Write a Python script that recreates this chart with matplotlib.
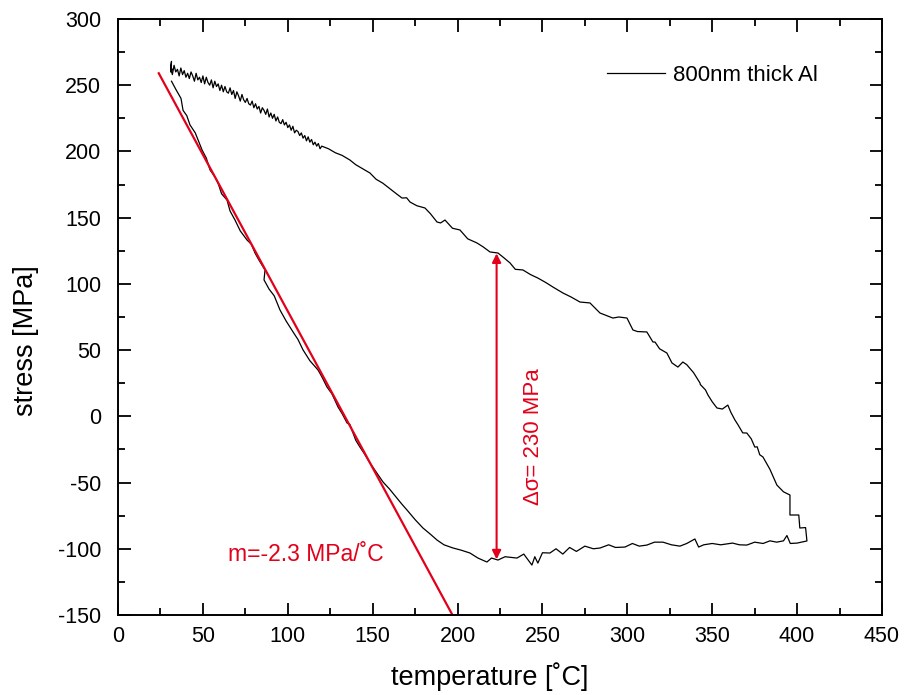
import numpy as np
import matplotlib.pyplot as plt
from matplotlib.ticker import MultipleLocator

plt.rcParams['font.family'] = ['Liberation Sans', 'DejaVu Sans']
plt.rcParams['axes.unicode_minus'] = False

# --- data read off the loop (temperature in C, stress in MPa) ---
# lower (steep) branch, low T -> high T
low_t = [31.5, 34.0, 37.1, 38.3, 40.5, 42.4, 45.5, 47.2, 49.5, 52.0, 54.2, 57.0, 58.9, 61.0,
         64.2, 66.0, 68.9, 72.0, 76.0, 78.5, 80.7, 83.0, 86.6, 86.0, 89.0, 92.0, 95.4, 99.0,
         103.1, 106.0, 109.0, 113.0, 117.8, 120.0, 123.1, 126.0, 129.6, 132.0, 134.9, 136.5,
         138.4, 140.0, 142.5, 145.0, 148.4, 152.0, 156.1, 160.0, 164.3, 167.0, 170.2, 175.0,
         179.6, 184.0, 187.9, 192.0, 197.3, 202.0, 207.3, 212.0, 217.3, 220.0, 223.8, 228.0,
         235.0, 239.0, 243.8, 245.5, 247.3, 250.0, 254.4]
low_s = [253.0, 247.0, 240.0, 231.0, 227.0, 220.0, 214.0, 208.6, 201.1, 195.0, 186.0, 181.0,
         176.2, 168.0, 163.3, 155.0, 148.2, 140.0, 133.1, 130.0, 123.3, 118.0, 110.5, 103.0,
         96.0, 91.0, 80.3, 72.0, 63.7, 58.0, 50.1, 42.0, 35.0, 30.0, 22.1, 17.0, 7.0, 2.0,
         -5.0, -6.0, -12.6, -18.0, -23.2, -28.0, -35.2, -42.0, -49.6, -55.0, -61.7, -66.0,
         -70.7, -78.0, -84.3, -89.0, -93.4, -97.0, -99.4, -101.0, -103.2, -107.0, -110.0,
         -107.0, -108.5, -106.0, -107.0, -104.0, -112.3, -106.0, -110.8, -103.0, -103.2]

# bottom branch at high T
bot_t = [258.0, 262.0, 266.0, 270.0, 275.0, 280.0, 284.0, 289.0, 293.0, 298.6, 303.0, 307.0,
         311.5, 316.0, 321.0, 326.0, 331.0, 335.0, 339.8, 342.0, 345.0, 350.0, 355.0, 362.0,
         366.0, 370.4, 375.0, 380.0, 384.0, 388.0, 392.0, 394.0, 396.0, 400.0, 405.8]
bot_s = [-100.0, -104.0, -99.0, -102.0, -98.0, -100.0, -99.4, -97.0, -99.0, -98.7, -96.0,
         -98.0, -97.2, -95.0, -95.0, -97.0, -98.0, -96.0, -92.6, -98.7, -97.0, -96.0, -97.0,
         -95.7, -97.0, -97.2, -95.0, -96.0, -94.0, -95.0, -94.0, -90.0, -96.0, -95.7, -94.1]

# upper branch, high T -> low T (noisy below ~120 C)
up_t = [405.0, 401.6, 401.0, 395.8, 395.8, 392.0, 388.1, 384.0, 379.9, 378.0, 376.5, 375.1,
        373.0, 370.4, 368.0, 365.0, 363.4, 361.0, 359.2, 356.0, 352.8, 350.0, 347.5, 346.0,
        343.0, 342.8, 339.0, 335.0, 332.7, 329.8, 326.3, 323.3, 319.0, 316.3, 315.1, 311.5,
        306.0, 303.3, 299.8, 295.0, 291.5, 283.9, 278.0, 272.1, 267.0, 262.1, 256.2, 252.0,
        247.3, 243.0, 238.5, 234.0, 230.9, 227.0, 223.8, 219.1, 215.0, 211.4, 206.0, 201.4,
        197.0, 192.6, 190.0, 187.9, 184.0, 180.8, 176.0, 172.0, 170.0, 167.3, 164.0, 160.0,
        156.0, 152.0, 148.4, 144.0, 140.0, 136.6, 132.0, 128.0, 124.0,
        120, 119, 118, 117, 116, 115, 114, 113, 112, 111,
        110, 109, 108, 107, 106, 105, 104, 103, 102, 101,
        100, 99, 98, 97, 96, 95, 94, 93, 92, 91,
        90, 89, 88, 87, 86, 85, 84, 83, 82, 81,
        80, 79, 78, 77, 76, 75, 74, 73, 72, 71,
        70, 69, 68, 67, 66, 65, 64, 63, 62, 61,
        60, 59, 58, 57, 56, 55, 54, 53, 52, 51,
        50, 49, 48, 47, 46, 45, 44, 43, 42, 41,
        40, 39, 38, 37, 36, 35, 34, 33, 32, 31,
        31.5, 31, 32]
up_s = [-84.0, -84.3, -74.5, -74.5, -59.4, -57.0, -51.9, -40.0, -30.7, -29.0, -23.0, -23.2,
        -17.0, -12.6, -12.5, -6.0, -2.8, 3.0, 8.5, 5.5, 6.3, 11.0, 16.1, 20.0, 24.0, 25.2,
        33.0, 39.0, 41.0, 37.2, 40.3, 47.8, 51.0, 56.1, 56.1, 63.7, 64.0, 65.2, 74.2, 75.0,
        74.2, 78.0, 85.6, 86.3, 90.0, 93.1, 97.6, 101.0, 104.4, 107.0, 110.5, 111.0, 115.8,
        120.0, 123.3, 124.1, 128.0, 130.9, 134.0, 140.7, 142.0, 148.2, 146.0, 146.7, 153.0,
        157.3, 159.0, 161.8, 165.0, 164.8, 168.0, 172.0, 176.0, 179.0, 183.7, 187.0, 190.0,
        193.5, 197.0, 199.0, 202.0,
        204, 202, 206, 204, 207, 205, 209, 207, 211, 208,
        212, 210, 214, 212, 215, 216, 214, 219, 216, 220,
        218, 222, 220, 224, 221, 222, 226, 223, 228, 225,
        229, 226, 232, 228, 231, 233, 229, 234, 232, 236,
        233, 238, 235, 236, 240, 237, 239, 243, 238, 242,
        245, 240, 246, 243, 248, 244, 245, 249, 245, 250,
        246, 251, 249, 253, 248, 254, 250, 252, 256, 251,
        257, 252, 256, 254, 259, 253, 257, 260, 255, 259,
        256, 261, 258, 263, 257, 262, 260, 265, 258, 263,
        268, 260, 262]

temp = low_t + bot_t + up_t
stress = low_s + bot_s + up_s

# linear fit of the elastic branch
fit_t = [24.0, 197.0]
fit_s = [259.0, -150.0]

# stress drop marker
arrow_t = 223.0
arrow_lo, arrow_hi = -108.0, 123.0

red = '#e2001a'

fig = plt.figure(figsize=(9.1, 6.95), dpi=100)
ax = fig.add_axes([0.1297, 0.1151, 0.8395, 0.8576])

ax.plot(temp, stress, color='black', lw=0.9, label='800nm thick Al')
ax.plot(fit_t, fit_s, color=red, lw=1.6)
ax.annotate('', xy=(arrow_t, arrow_hi), xytext=(arrow_t, arrow_lo),
            arrowprops=dict(arrowstyle='<|-|>', color=red, lw=1.5,
                            shrinkA=0, shrinkB=0, mutation_scale=13))
ax.text(245, -15, 'Δσ= 230 MPa', color=red, fontsize=16, rotation=90,
        ha='center', va='center')
ax.text(65, -104, 'm=-2.3 MPa/˚C', color=red, fontsize=16.5, ha='left', va='center')

ax.set_xlim(0, 450)
ax.set_ylim(-150, 300)
ax.xaxis.set_major_locator(MultipleLocator(50))
ax.xaxis.set_minor_locator(MultipleLocator(25))
ax.yaxis.set_major_locator(MultipleLocator(50))
ax.yaxis.set_minor_locator(MultipleLocator(25))
ax.tick_params(which='both', direction='in', top=True, right=True, width=1.3)
ax.tick_params(which='major', length=9, labelsize=15.5)
ax.tick_params(which='minor', length=5)
ax.tick_params(axis='y', pad=12)
ax.tick_params(axis='x', pad=8)
for s in ax.spines.values():
    s.set_linewidth(1.4)

ax.set_xlabel('temperature [˚C]', fontsize=19.5)
ax.set_ylabel('stress [MPa]', fontsize=19.5)
ax.xaxis.set_label_coords(0.486, -0.079)
ax.yaxis.set_label_coords(-0.104, 0.461)

ax.legend(loc='center left', bbox_to_anchor=(0.64, 0.906), frameon=False,
          handlelength=2.6, handletextpad=0.35, fontsize=16,
          borderpad=0, borderaxespad=0)

fig.savefig('out.png', dpi=100)
